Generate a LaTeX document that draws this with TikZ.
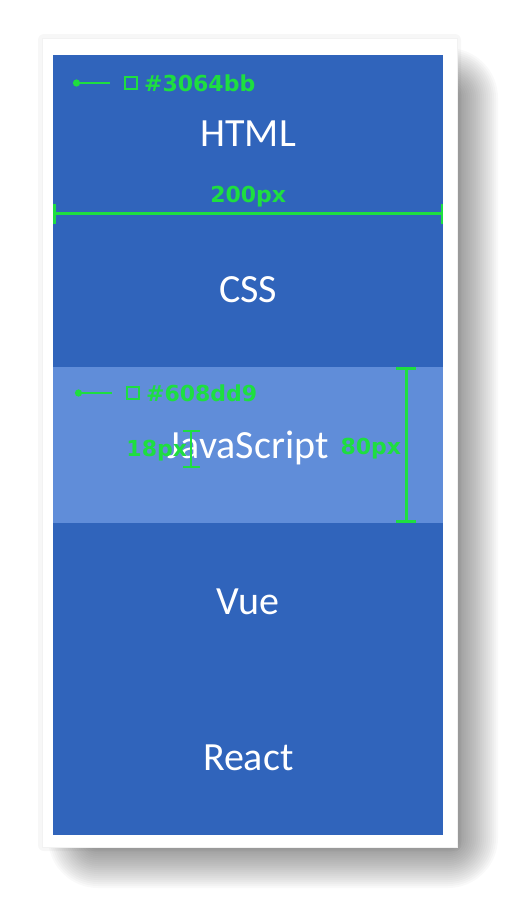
\documentclass[tikz,border=0pt]{standalone}
\usepackage{fontspec}
\setmainfont{Carlito}
\newfontfamily\dimfont{DejaVu Sans}
\usepackage{tikz}
\usetikzlibrary{arrows.meta, positioning}
\definecolor{rowblue}{HTML}{3064BB}
\definecolor{rowlight}{HTML}{608DD9}
\definecolor{dimgreen}{RGB}{30, 222, 64}

\begin{document}
\begin{tikzpicture}[x=1pt, y=-1pt, node distance=0pt]
  \useasboundingbox (0,0) rectangle (512,898);
  % soft shadow under the card
  \foreach \r [evaluate=\r as \rc using \r+26] in {-24,-22,...,24}
    \fill[black, opacity=0.023, rounded corners=\rc pt]
      (72-\r,72-\r) rectangle (474+\r,864+\r);
  \fill[black, opacity=0.03, rounded corners=6pt] (38,34) rectangle (461,851);
  \node[fill=white, draw=black!5, minimum width=415pt, minimum height=809pt] (card) at (249.5,442.5) {};
  \node[fill=rowblue, minimum width=390pt, minimum height=155.6pt, inner sep=0pt, text height=26pt, text depth=0pt,
        text=white, font=\fontsize{40}{44}\selectfont, anchor=north west] (html) at (53,55) {HTML};
  \node[fill=rowblue, minimum width=390pt, minimum height=155.6pt, inner sep=0pt, text height=26pt, text depth=0pt,
        text=white, font=\fontsize{40}{44}\selectfont, below=of html] (css) {CSS};
  \node[fill=rowlight, minimum width=390pt, minimum height=155.6pt, inner sep=0pt, text height=26pt, text depth=0pt,
        text=white, font=\fontsize{40}{44}\selectfont, below=of css] (js) {JavaScript};
  \node[fill=rowblue, minimum width=390pt, minimum height=155.6pt, inner sep=0pt, text height=26pt, text depth=0pt,
        text=white, font=\fontsize{40}{44}\selectfont, below=of js] (vue) {Vue};
  \node[fill=rowblue, minimum width=390pt, minimum height=155.6pt, inner sep=0pt, text height=26pt, text depth=0pt,
        text=white, font=\fontsize{40}{44}\selectfont, below=of vue] (react) {React};
  % colour tags
  \coordinate (htmldot) at ([shift={(20pt,-28pt)}]html.north west);
  \node[draw=dimgreen, line width=1.8pt, minimum size=12pt, inner sep=0pt]
        (htmlsq) at ([xshift=58pt]htmldot) {};
  \node[text=dimgreen, font=\dimfont\bfseries\fontsize{22}{24}\selectfont, inner sep=0pt,
        right=6pt of htmlsq] (htmlhex) {\#3064bb};
  \draw[draw=dimgreen, line width=2.8pt, {Circle[length=7pt]}-] (htmldot) -- ([xshift=-14pt]htmlsq.west);
  \coordinate (jsdot) at ([shift={(22pt,-26pt)}]js.north west);
  \node[draw=dimgreen, line width=1.8pt, minimum size=12pt, inner sep=0pt]
        (jssq) at ([xshift=58pt]jsdot) {};
  \node[text=dimgreen, font=\dimfont\bfseries\fontsize{22}{24}\selectfont, inner sep=0pt,
        right=6pt of jssq] (jshex) {\#608dd9};
  \draw[draw=dimgreen, line width=2.8pt, {Circle[length=7pt]}-] (jsdot) -- ([xshift=-14pt]jssq.west);
  % dimensions
  \draw[draw=dimgreen, line width=2.6pt, {Bar[width=20pt]}-{Bar[width=20pt]}]
    ([yshift=-2.5pt]html.south west) -- ([yshift=-2.5pt]html.south east)
    node[midway, above=5pt, text=dimgreen, font=\dimfont\bfseries\fontsize{22}{24}\selectfont, inner sep=0pt] {200px};
  \draw[draw=dimgreen, line width=2.6pt, {Bar[width=20pt]}-{Bar[width=20pt]}]
    ([xshift=-37pt]js.north east) -- ([xshift=-37pt]js.south east)
    node[pos=0.52, left=4pt, text=dimgreen, font=\dimfont\bfseries\fontsize{22}{24}\selectfont, inner sep=0pt] {80px};
  \draw[draw=dimgreen, line width=2.4pt, {Bar[width=17pt]}-{Bar[width=17pt]}]
    ([shift={(-57pt,15pt)}]js.center) -- ([shift={(-57pt,-23pt)}]js.center)
    node[pos=0.55, left=3pt, text=dimgreen, font=\dimfont\bfseries\fontsize{22}{24}\selectfont, inner sep=0pt] {18px};
\end{tikzpicture}
\end{document}
